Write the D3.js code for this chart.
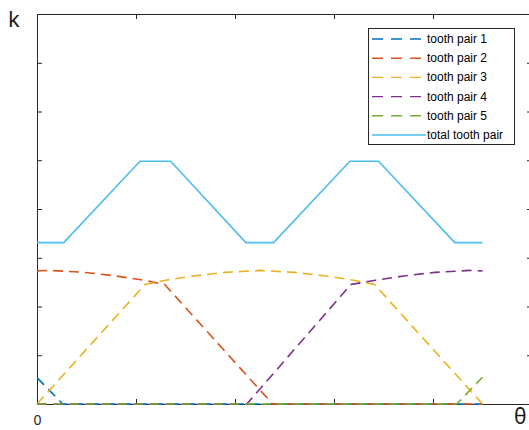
<!DOCTYPE html>
<html lang="en">
<head>
<meta charset="UTF-8">
<title>tooth pair stiffness</title>
<style>
    body{ margin:0; background:#fff; }
    svg{ display:block; }
</style>
</head>
<body>
<svg width="529" height="430"></svg>
<script src="https://d3js.org/d3.v7.min.js"></script>
<script>
// data (theta in tick units, k in tick units)
var theta1 = [0, 0.26, 4.5];
var k1     = [0.54, 0, 0];
var theta2 = [0, 0.13, 0.48, 0.78, 1.08, 1.29, 2.38, 4.5];
var k2     = [2.73, 2.74, 2.70, 2.63, 2.54, 2.45, 0, 0];
var theta3 = [0, 1.09, 1.3, 1.6, 1.9, 2.25, 2.6, 2.9, 3.2, 3.41, 4.5];
var k3     = [0, 2.45, 2.54, 2.63, 2.70, 2.74, 2.70, 2.63, 2.54, 2.45, 0];
var theta4 = [0, 2.12, 3.17, 3.42, 3.72, 4.02, 4.37, 4.5];
var k4     = [0, 0, 2.45, 2.54, 2.63, 2.70, 2.74, 2.73];
var theta5 = [0, 4.24, 4.5];
var k5     = [0, 0, 0.55];
var thetaT = [0, 0.27, 1.04, 1.35, 2.11, 2.39, 3.16, 3.45, 4.22, 4.5];
var kT     = [3.31, 3.31, 4.98, 4.98, 3.31, 3.31, 4.98, 4.98, 3.31, 3.31];

var names  = ["tooth pair 1", "tooth pair 2", "tooth pair 3", "tooth pair 4", "tooth pair 5", "total tooth pair"];
var colors = ["#0072BD", "#D95319", "#EDB120", "#7E2F8E", "#77AC30", "#4DBEEE"];
var xTicks = [0, 1, 2, 3, 4, 5];
var yTicks = [0, 1, 2, 3, 4, 5, 6, 7, 8];

var series = [[theta1, k1], [theta2, k2], [theta3, k3], [theta4, k4], [theta5, k5], [thetaT, kT]];

var svg = d3.select("svg");
var pL = 37, pT = 14, pR = 532, pB = 404;

var x = d3.scaleLinear().domain([0, 5]).range([pL, pR]);
var y = d3.scaleLinear().domain([0, 8]).range([pB, pT]);

// axes box with inward ticks on all sides
function styleAxis(g){
    g.selectAll("path,line").attr("stroke", "#262626").attr("stroke-width", 1);
    g.selectAll("text").attr("fill", "#262626").attr("font-family", "Noto Sans, sans-serif").attr("font-size", 14);
}
svg.append("g").attr("transform", "translate(0," + pB + ")")
    .call(d3.axisBottom(x).tickValues(xTicks).tickSize(-5).tickSizeOuter(0).tickPadding(11)
        .tickFormat(function(d){ return d === 0 ? "0" : ""; }))
    .call(styleAxis);
svg.append("g").attr("transform", "translate(0," + pT + ")")
    .call(d3.axisTop(x).tickValues(xTicks).tickSize(-5).tickSizeOuter(0).tickFormat(""))
    .call(styleAxis);
svg.append("g").attr("transform", "translate(" + pL + ",0)")
    .call(d3.axisLeft(y).tickValues(yTicks).tickSize(-5).tickSizeOuter(0).tickFormat(""))
    .call(styleAxis);
svg.append("g").attr("transform", "translate(" + pR + ",0)")
    .call(d3.axisRight(y).tickValues(yTicks).tickSize(-5).tickSizeOuter(0).tickFormat(""))
    .call(styleAxis);

// curves
var line = d3.line().x(function(d){ return x(d[0]); }).y(function(d){ return y(d[1]); });
series.forEach(function(s, i){
    var pts = s[0].map(function(t, j){ return [t, s[1][j]]; });
    svg.append("path").attr("d", line(pts))
        .attr("fill", "none")
        .attr("stroke", colors[i])
        .attr("stroke-width", 1.6)
        .attr("stroke-dasharray", i < 5 ? "10,6" : null);
});

// axis labels
svg.append("text").attr("x", 8).attr("y", 27).text("k")
    .attr("font-family", "Noto Sans, sans-serif").attr("font-size", 22).attr("fill", "#1a1a1a");
svg.append("text").attr("x", 514).attr("y", 424).text("θ")
    .attr("font-family", "Noto Sans, sans-serif").attr("font-size", 21).attr("fill", "#1a1a1a");

// legend
var lg = svg.append("g");
lg.append("rect").attr("x", 368.5).attr("y", 28.5).attr("width", 146).attr("height", 116)
    .attr("fill", "#fff").attr("stroke", "#262626").attr("stroke-width", 1);
names.forEach(function(n, i){
    var yy = 39 + i * 19.2;
    lg.append("line").attr("x1", 372).attr("x2", 426).attr("y1", yy).attr("y2", yy)
        .attr("stroke", colors[i]).attr("stroke-width", 1.4)
        .attr("stroke-dasharray", i < 5 ? "11,8" : null);
    lg.append("text").attr("x", 427).attr("y", yy + 4).text(n)
        .attr("font-family", "Liberation Sans, Arial, sans-serif").attr("font-size", 12).attr("fill", "#000");
});
</script>
</body>
</html>
